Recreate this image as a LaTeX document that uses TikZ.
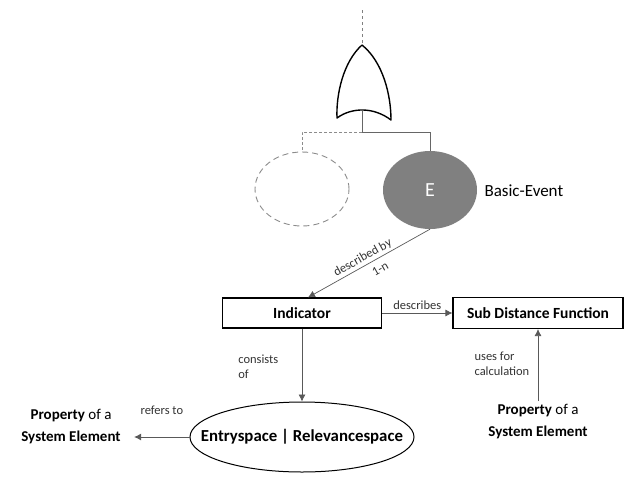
\documentclass[tikz,border=0pt]{standalone}
\usepackage{fontspec}
\setmainfont{Carlito}
\usetikzlibrary{shapes.geometric}
\usetikzlibrary{arrows.meta}
\usetikzlibrary{positioning}

\begin{document}
\begin{tikzpicture}[x=1pt,y=-1pt,
  box/.style={draw,line width=1.1pt,inner sep=0pt,font=\bfseries\fontsize{15.5}{18}\selectfont},
  rel/.style={draw=black!65,line width=0.7pt,-{Latex[length=7pt,width=7pt]}},
  lbl/.style={text=black!80,font=\fontsize{12.5}{15}\selectfont},
  prop/.style={align=center,font=\fontsize{15}{22}\selectfont}]
  \useasboundingbox (0,0) rectangle (626,483);

  % gate
  \coordinate (up) at (362,10);
  \coordinate (gtop) at (362,45);
  \coordinate (gout) at (362,111);
  \coordinate (fork) at (362,132);
  \draw[line width=1.4pt,line join=round] (gtop) .. controls (343,62) and (336,95) .. (337,118)
    .. controls (352,107) and (374,107) .. (391,120)
    .. controls (391,95) and (383,62) .. (gtop);

  \node[ellipse,draw=black!45,dash pattern=on 6pt off 4pt,line width=0.9pt,
    minimum width=94pt,minimum height=74pt] (ph) at (302,189) {};
  \node[ellipse,fill=black!50,minimum width=94pt,minimum height=78pt,
    text=white,font=\fontsize{20}{24}\selectfont] (ev) at (430,190) {E};
  \node[anchor=west,font=\fontsize{17}{20}\selectfont] (evlbl) at (481,191) {Basic-Event};

  \node[box,minimum width=159pt,minimum height=30pt] (ind) at (302,313) {Indicator};
  \node[box,minimum width=170pt,minimum height=31pt] (sdf) at (538,313) {Sub Distance Function};
  \node[ellipse,draw,line width=1pt,minimum width=224pt,minimum height=70pt] (space) at (302,437) {};
  \node[font=\bfseries\fontsize{16.8}{20}\selectfont] (spacetxt) at (space) {Entryspace | Relevancespace};

  \node[prop] (propl) at (71,427) {\textbf{Property} of a\\\textbf{System Element}};
  \node[prop] (propr) at (538,422) {\textbf{Property} of a\\\textbf{System Element}};

  \draw[black!50,dashed,line width=0.9pt] (up) -- (gtop);
  \draw[black!60,line width=0.8pt] (gout) -- (fork);
  \draw[black!45,densely dashed,line width=0.8pt] (fork) -| (ph.north);
  \draw[black!60,line width=0.8pt] (fork) -| (ev.north);

  \draw[rel] (ev.south) -- node[lbl,sloped,above=1pt,pos=0.52,inner sep=1pt] {described by}
    node[lbl,sloped,below=5pt,pos=0.45,inner sep=1pt] {1-n} ([xshift=6pt]ind.north);
  \draw[rel] (ind) -- node[lbl,above] {describes} (sdf);
  \draw[rel] (ind) -- node[lbl,left,align=left,xshift=-20pt,yshift=-2pt] {consists\\of} (space);
  \draw[rel] (space) -- node[lbl,above,yshift=19pt] {refers to} ([xshift=10pt]propl.east |- space);
  \draw[rel] (propr) -- node[lbl,left,align=left,xshift=-5pt,yshift=1pt] {uses for\\calculation} (sdf);
\end{tikzpicture}
\end{document}
